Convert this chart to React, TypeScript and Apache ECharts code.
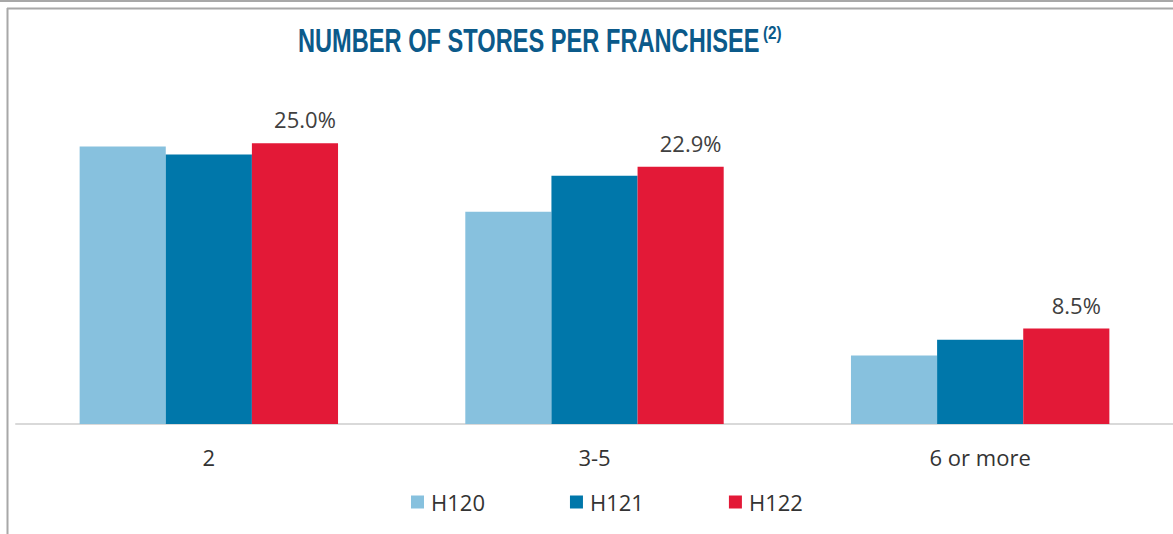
import React, { useEffect, useRef } from "react";
import * as echarts from "echarts";

const categories = ["2", "3-5", "6 or more"];
const seriesNames = ["H120", "H121", "H122"];
const h120 = [24.7, 18.9, 6.1];
const h121 = [24.0, 22.1, 7.5];
const h122 = [25.0, 22.9, 8.5];
const colors = ["#87C1DE", "#0077AA", "#E31937"];
const titleText = "NUMBER OF STORES PER FRANCHISEE";
const titleSup = "(2)";

export default function App() {
  const ref = useRef<HTMLDivElement>(null);
  useEffect(() => {
    if (!ref.current) return;
    const chart = echarts.init(ref.current, null, { renderer: "svg" });
    const values = [h120, h121, h122];
    chart.setOption({
      animation: false,
      backgroundColor: "#ffffff",
      textStyle: { fontFamily: "Open Sans" },
      grid: { left: 16, right: 0, top: 87, bottom: 110 },
      xAxis: {
        type: "category",
        data: categories,
        axisLine: { lineStyle: { color: "#d9d9d9", width: 2 } },
        axisTick: { show: false },
        axisLabel: { color: "#333333", fontSize: 22, margin: 22, fontFamily: "Open Sans" },
      },
      yAxis: { type: "value", min: 0, max: 30, show: false, splitLine: { show: false } },
      legend: {
        data: seriesNames,
        left: 406,
        top: 486,
        itemWidth: 13,
        itemHeight: 13,
        itemGap: 85,
        icon: "rect",
        textStyle: { fontSize: 22, color: "#333333", fontFamily: "Open Sans", padding: [0, 0, 0, 2] },
      },
      series: seriesNames.map((name, i) => ({
        name,
        type: "bar",
        data: values[i],
        barGap: "0%",
        barCategoryGap: "33%",
        itemStyle: { color: colors[i] },
        label: {
          show: i === 2,
          position: "top",
          distance: 13,
          offset: [10, 0],
          formatter: (p: any) => p.value.toFixed(1) + "%",
          fontSize: 22,
          color: "#404040",
          fontFamily: "Open Sans",
        },
      })),
      graphic: [
        { type: "line", shape: { x1: 0, y1: 1, x2: 1173, y2: 1 }, style: { stroke: "#a8a8a8", lineWidth: 2 } },
        { type: "line", shape: { x1: 7, y1: 8.5, x2: 1173, y2: 8.5 }, style: { stroke: "#a8a8a8", lineWidth: 2 } },
        { type: "line", shape: { x1: 7.5, y1: 8, x2: 7.5, y2: 534 }, style: { stroke: "#a8a8a8", lineWidth: 2 } },
        {
          type: "text",
          x: 298,
          y: 40.5,
          scaleX: 0.695,
          style: {
            text: titleText,
            font: "bold 34px 'Liberation Sans'",
            fill: "#0B5A8A",
            textAlign: "left",
            textVerticalAlign: "middle",
          },
        },
        {
          type: "text",
          x: 763,
          y: 33.5,
          scaleX: 0.85,
          style: {
            text: titleSup,
            font: "bold 18px 'Liberation Sans'",
            fill: "#0B5A8A",
            textAlign: "left",
            textVerticalAlign: "middle",
          },
        },
      ],
    });
    return () => chart.dispose();
  }, []);
  return (
    <div
      ref={ref}
      style={{ position: "absolute", left: 0, top: 0, width: 1173, height: 534 }}
    />
  );
}
